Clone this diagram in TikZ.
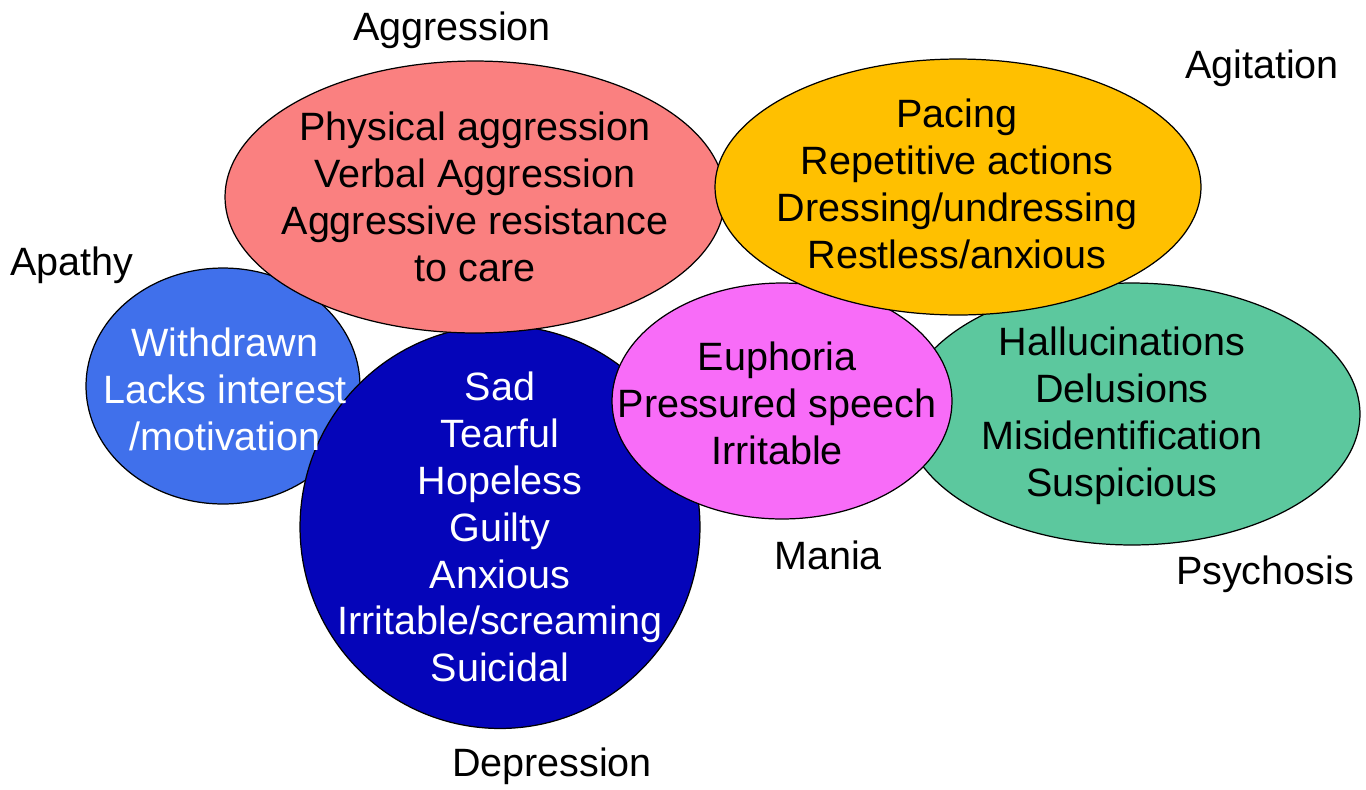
\documentclass[tikz,border=0pt]{standalone}
\usepackage{fontspec}
\setmainfont{Liberation Sans}
\usetikzlibrary{shapes.geometric}
\definecolor{agresion}{RGB}{250,128,128}
\definecolor{agitacion}{RGB}{255,192,0}
\definecolor{apatia}{RGB}{64,112,235}
\definecolor{depresion}{RGB}{5,5,185}
\definecolor{mania}{RGB}{248,108,248}
\definecolor{psicosis}{RGB}{92,200,158}
\begin{document}
\begin{tikzpicture}[x=0.02cm, y=-0.02cm,
        globo/.style={draw, ellipse, line width=0.7pt, inner sep=0pt},
        lista/.style={align=center, inner sep=0pt,
        font=\fontsize{22.5}{26.7}\selectfont},
        rotulo/.style={inner sep=0pt, font=\fontsize{22.5}{26.7}\selectfont}
    ]
        \useasboundingbox (0,0) rectangle (1366,789);
        \node[globo, fill=apatia, minimum width=5.48cm, minimum height=4.72cm] (apa) at (223,386) {};
        \node[globo, fill=depresion, minimum width=8cm, minimum height=8.06cm] (dep) at (500,527) {};
        \node[globo, fill=psicosis, minimum width=9.12cm, minimum height=5.24cm] (psi) at (1132,414) {};
        \node[globo, fill=mania, minimum width=6.8cm, minimum height=4.72cm] (man) at (782,401) {};
        \node[globo, fill=agresion, minimum width=10cm, minimum height=5.44cm] (agr) at (475,197) {};
        \node[globo, fill=agitacion, minimum width=9.72cm, minimum height=5.12cm] (agi) at (958,187) {};
        \node[lista, text=white] (apaT) at (225,389) {Withdrawn\\Lacks interest\\/motivation};
        \node[lista, text=white] (depT) at (500,527) {Sad\\Tearful\\Hopeless\\Guilty\\Anxious\\Irritable/screaming\\Suicidal};
        \node[lista] (psiT) at (1122,416) {Hallucinations\\Delusions\\Misidentification\\Suspicious};
        \node[lista] (manT) at (777,403) {Euphoria\\Pressured speech\\Irritable};
        \node[lista] (agrT) at (475,197) {Physical aggression\\Verbal Aggression\\Aggressive resistance\\to care};
        \node[lista] (agiT) at (957,184) {Pacing\\Repetitive actions\\Dressing/undressing\\Restless/anxious};
        \node[rotulo] (agrL) at (452,30) {Aggression};
        \node[rotulo] (agiL) at (1262,68) {Agitation};
        \node[rotulo] (apaL) at (72,265) {Apathy};
        \node[rotulo] (manL) at (828,555) {Mania};
        \node[rotulo] (psiL) at (1265,574) {Psychosis};
        \node[rotulo] (depL) at (552,766) {Depression};
    \end{tikzpicture}
\end{document}
